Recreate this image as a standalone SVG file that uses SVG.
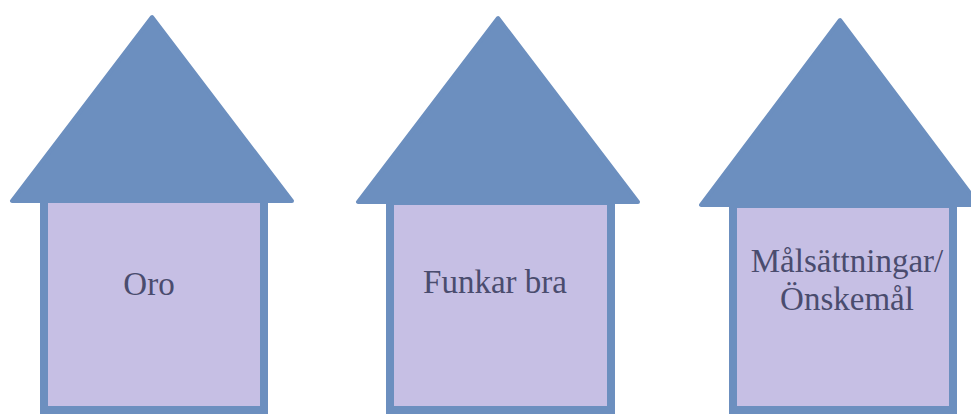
<svg xmlns="http://www.w3.org/2000/svg" width="971" height="414" viewBox="0 0 971 414">
<style>
.roof{fill:#6C8FBF;stroke:#6C8FBF;stroke-width:4;stroke-linejoin:round}
.body{fill:#C6BFE4;stroke:#6C8FBF;stroke-width:8}
</style>
<rect width="971" height="414" fill="#FFFFFF"/>
<g id="house-oro">
<rect class="body" x="44" y="199" width="220" height="211"/>
<polygon class="roof" points="152,17 12,201 292,201"/>
<text x="149" y="295" font-family="Liberation Serif" font-size="33" fill="#4A4C6E" text-anchor="middle" style="font-family:'Liberation Serif',serif">Oro</text>
</g>
<g id="house-funkar">
<rect class="body" x="390" y="201" width="221" height="209"/>
<polygon class="roof" points="498,18 358,202 638,202"/>
<text x="495" y="293" font-family="Liberation Serif" font-size="33" fill="#4A4C6E" text-anchor="middle" style="font-family:'Liberation Serif',serif">Funkar bra</text>
</g>
<g id="house-mal">
<rect class="body" x="733" y="204" width="220" height="206"/>
<polygon class="roof" points="840,20 701,205 979,205"/>
<text x="847" y="272" font-family="Liberation Serif" font-size="33" fill="#4A4C6E" text-anchor="middle" style="font-family:'Liberation Serif',serif">Målsättningar/</text>
<text x="847" y="310" font-family="Liberation Serif" font-size="33" fill="#4A4C6E" text-anchor="middle" style="font-family:'Liberation Serif',serif">Önskemål</text>
</g>
<g id="connectors"/>
</svg>
